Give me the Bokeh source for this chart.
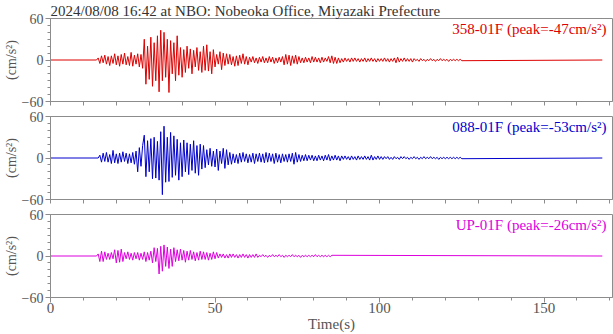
from bokeh.plotting import figure
from bokeh.layouts import column
from bokeh.models import Range1d, FixedTicker, Label
from bokeh.embed import file_html
from bokeh.resources import INLINE

# ---------------- data ----------------
title_text = "2024/08/08 16:42 at NBO: Nobeoka Office, Miyazaki Prefecture"
components = ["358-01F", "088-01F", "UP-01F"]
peaks = [-47, -53, -26]
colors = ["#dd0000", "#0000cc", "#dd00dd"]

dt = 0.5            # sampling step of the hand-read series (s)
record_end = 167.7  # end of record (s)

onset_358 = 14.0
acc_358 = [
    3, -5, 6, -4, 7, -6, 5, -8, 6, -5, 9, -7,
    6, -9, 8, -6, 10, -7, 5, -8, 11, -9, 7, -6, 9, -10, 8,
    -12, 30, -35, 20, -28, 33, -38, 25, -30,
    35, -46, 43, -30, 40, -25, 30, -47,
    28, -20, 25, -30, 35, -22, 18, -25,
    15, -18, 20, -12, 16, -20, 14, -10, 18, -15,
    12, -18, 20, -15, 22, -16, 12, -20, 15, -10,
    8, -6, 12, -14, 10, -8, 9,
    -6, 8, -7, 5, -9, 6, -8, 7, -5, 9, -6, 5, -7,
    4, -3, 5, -4, 3, -5, 4, -3, 5, -4, 3, -4, 5, -3, 4, -5, 3, -4, 4, -3,
    5, -7, 8, -6, 7, -8, 6, -5, 7, -6, 5, -4,
    3, -4, 4, -3, 3, -4, 5, -3, 4, -3, 3, -4, 4, -3, 3, -2,
    5, -4, 6, -5, 4, -5, 3, -4,
    2, -3, 3, -2, 2, -3, 3, -2, 3, -2, 2, -3, 2, -2, 3, -3, 2, -2, 3, -2, 2, -3, 2, -2,
    2, -2, 3, -2, 2, -3, 2, -2, 3, -4, 4, -3, 2, -2, 3, -2, 2, -2, 2, -3,
    2, -1, 1, -2, 2, -1, 1, -2, 1, -1, 2, -1, 1, -2, 1, -1, 2, -1, 1, -1,
    1, -2, 1, -1, 1, -1, 1, -1, 1, -1,
]

onset_088 = 14.5
acc_088 = [
    4, -6, 7, -5, 8, -6, 5, -8, 11, -7, 6,
    -8, 7, -6, 9, -5, 7, -8, 6, -7, 8, -9, 10,
    -20, 15, -12, 18,
    33, -27, 25, -20, 28, -30, 30, -29,
    24, -32, 38, -53, 46, -35, 30, -34,
    37, -28, 32, -25, 27, -32, 22, -27, 26, -20,
    22, -24, 20, -18, 25, -22, 18, -25, 20, -16, 18, -14,
    12, -10, 14, -12, 10, -13, 13, -18,
    10, -8, 14, -15, 12, -10, 8, -9,
    6, -7, 5, -8, 7, -6, 8, -5, 6, -7, 5, -6, 7, -8, 6, -5, 7, -6,
    6, -7, 8, -6, 7, -5, 6, -8, 7, -6, 5, -7, 6, -5,
    5, -6, 6, -5, 7, -9, 8, -6, 5, -5, 4, -4, 5, -4,
    4, -3, 4, -4, 3, -4, 4, -3, 3, -4, 4, -3, 5, -4, 3, -3, 4, -3, 3, -4,
    3, -2, 3, -2, 2, -3, 3, -2, 2, -3, 3, -2, 2, -2, 3, -2, 2, -3, 4, -3,
    2, -2, 3, -2, 2, -2,
    2, -1, 2, -2, 1, -2, 2, -1, 1, -2, 2, -1, 2, -1, 1, -2, 1, -1, 2, -1,
    1, -2, 1, -1, 2, -1, 1, -1, 2, -1, 1, -1, 1, -2, 1, -1, 1, -1, 1, -1,
    1, -1, 1, -1, 1, -1, 1, -1,
]

onset_up = 14.0
acc_up = [
    3, -8, 7, -8, 6,
    -5, 4, -5, 5, -4,
    9, -10, 8, -9, 10, -8,
    5, -4, 6, -5, 4, -6, 5, -4, 5, -6, 4, -5,
    6, -8, 5, -6, 7,
    -10, 12, -8, 11,
    -26, 14, -22, 16, -15,
    13, -18, 10, -15, 12,
    -8, 9, -7, 10, -6, 8, -9, 7, -6, 8,
    -5, 6, -7, 5, -6, 7, -5, 6, -5, 5, -6, 4, -5, 6, -4, 5,
    -3, 3, -2, 3, -3, 2, -3, 3, -2, 3, -2, 2, -3, 2, -2, 3, -2, 2, -3, 2,
    -2, 2, -2, 3,
    -2, 1, -1, 2, -1, 1, -2, 1, -1, 2, -1, 1, -1, 2, -1, 1, -2, 1, -1, 1,
    -1, 2, -1, 1, -1, 1, -2, 1, -1, 1, -1, 1, -1, 1, -1, 2, -1, 1, -1, 1,
    -1, 1, -1, 1, -1, 1,
]

series = [(onset_358, acc_358), (onset_088, acc_088), (onset_up, acc_up)]

x_major = [0, 50, 100, 150]
x_minor = [0, 10, 20, 30, 40, 50, 60, 70, 80, 90, 100, 110, 120, 130, 140, 150, 160, 170]
y_major = [-60, 0, 60]
y_minor = [-60, -50, -40, -30, -20, -10, 0, 10, 20, 30, 40, 50, 60]

# ---------------- styling ----------------
FONT = "Liberation Serif"
AX_COL = "#8c8c8c"
TXT_COL = "#555555"

x_range = Range1d(0, 170.8)
borders = [(0, 8), (7, 8), (7, 37)]

figs = []
for i, ((onset, vals), comp, pk, col) in enumerate(zip(series, components, peaks, colors)):
    top, bottom = borders[i]
    p = figure(width=613, frame_height=83, x_range=x_range,
               y_range=Range1d(-60, 60), output_backend="svg",
               toolbar_location=None, min_border_left=50, min_border_right=1,
               min_border_top=top, min_border_bottom=bottom)
    p.grid.visible = False
    p.outline_line_color = AX_COL
    p.outline_line_width = 1
    p.background_fill_color = "white"
    p.border_fill_color = "white"

    xs = [0.0, onset] + [onset + (k + 1) * dt for k in range(len(vals))] + [record_end]
    ys = [0, 0] + vals + [0]
    p.line(xs, ys, line_color=col, line_width=1.0)

    for ax in (p.xaxis[0], p.yaxis[0]):
        ax.axis_line_color = AX_COL
        ax.major_tick_line_color = AX_COL
        ax.minor_tick_line_color = AX_COL
        ax.major_tick_in = 0
        ax.minor_tick_in = 0
        ax.major_tick_out = 5
        ax.minor_tick_out = 3
        ax.major_label_text_font = FONT
        ax.major_label_text_font_size = "14px"
        ax.major_label_text_color = TXT_COL
        ax.axis_label_text_font = FONT
        ax.axis_label_text_font_size = "14px"
        ax.axis_label_text_font_style = "normal"
        ax.axis_label_text_color = TXT_COL

    p.yaxis.ticker = FixedTicker(ticks=y_major, minor_ticks=y_minor)
    p.yaxis.axis_label = "(cm/s²)"
    p.yaxis.axis_label_standoff = 0
    p.yaxis.major_label_standoff = 2

    if i < 2:
        p.xaxis.ticker = FixedTicker(ticks=[], minor_ticks=x_minor)
        p.xaxis.minor_tick_out = 4
    else:
        p.xaxis.ticker = FixedTicker(ticks=x_major, minor_ticks=x_minor)
        p.xaxis.axis_label = "Time(s)"
        p.xaxis.major_label_standoff = 0
        p.xaxis.axis_label_standoff = 0
        p.xaxis.major_label_text_font_size = "15px"
        p.xaxis.axis_label_text_font_size = "15px"

    p.add_layout(Label(x=170.8, y=60, x_offset=-6, y_offset=-2,
                       text=f"{comp} (peak={pk}cm/s²)", text_align="right",
                       text_baseline="top", text_font=FONT,
                       text_font_size="15px", text_color=col))
    if i == 0:
        p.title.text = title_text
        p.title.align = "left"
        p.title.text_font = FONT
        p.title.text_font_size = "15px"
        p.title.text_font_style = "normal"
        p.title.text_color = "#333333"
        p.title.standoff = 0
        p.title.offset = 0
    figs.append(p)

layout = column(*figs, spacing=0)
open("out.html", "w").write(file_html(layout, INLINE))
